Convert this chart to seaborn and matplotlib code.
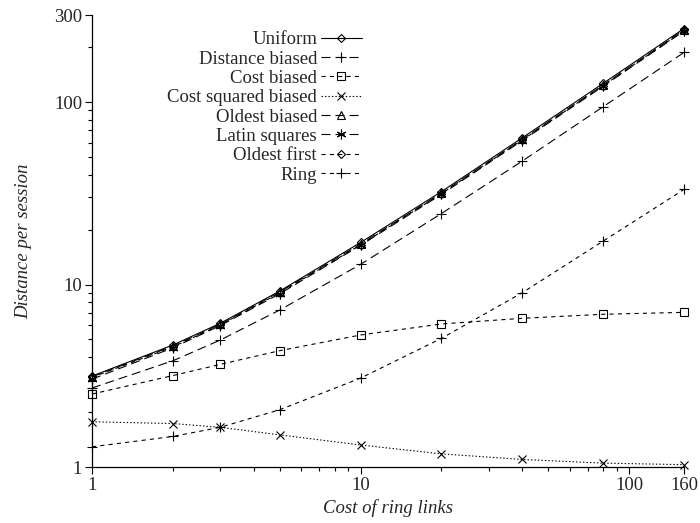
import matplotlib
matplotlib.use("Agg")
import matplotlib.pyplot as plt
import seaborn as sns
from matplotlib.ticker import FixedLocator, FixedFormatter, NullFormatter

# ---- data ----
cost = [1, 2, 3, 5, 10, 20, 40, 80, 160]
uniform = [3.15, 4.66, 6.13, 9.21, 17.0, 32.3, 63.7, 126.6, 253]
distance_biased = [2.71, 3.82, 4.96, 7.25, 12.9, 24.5, 47.5, 94.3, 187]
cost_biased = [2.51, 3.17, 3.65, 4.34, 5.29, 6.08, 6.53, 6.87, 7.04]
cost_squared_biased = [1.77, 1.73, 1.65, 1.50, 1.32, 1.18, 1.10, 1.05, 1.03]
oldest_biased = [3.12, 4.60, 6.05, 9.10, 16.7, 31.7, 62.5, 124, 249]
latin_squares = [3.03, 4.50, 5.95, 8.90, 16.4, 31.2, 61.5, 122, 245]
oldest_first = [3.10, 4.55, 6.00, 9.00, 16.5, 31.5, 62.0, 123, 247]
ring = [1.29, 1.47, 1.65, 2.06, 3.07, 5.07, 9.02, 17.3, 33.2]

series_names = ["Uniform", "Distance biased", "Cost biased", "Cost squared biased",
                "Oldest biased", "Latin squares", "Oldest first", "Ring"]
series_values = [uniform, distance_biased, cost_biased, cost_squared_biased,
                 oldest_biased, latin_squares, oldest_first, ring]

x_ticks = [1, 10, 100, 160]
x_tick_labels = ["1", "10", "100", "160"]
y_ticks = [1, 10, 100, 300]
y_tick_labels = ["1", "10", "100", "300"]
x_label = "Cost of ring links"
y_label = "Distance per session"

# ---- styles ----
long_dash = (0, (6.5, 3.6))
med_dash = (0, (3.0, 3.0))
dotted = (0, (1.0, 1.5))
styles = [
    dict(linestyle="-", marker="D", markersize=4.5),
    dict(linestyle=long_dash, marker="+", markersize=7),
    dict(linestyle=med_dash, marker="s", markersize=6),
    dict(linestyle=dotted, marker="x", markersize=6),
    dict(linestyle=long_dash, marker="^", markersize=5.5),
    dict(linestyle=long_dash, marker=(6, 2, 0), markersize=7),
    dict(linestyle=med_dash, marker="D", markersize=4.5),
    dict(linestyle=med_dash, marker="+", markersize=7),
]

sns.set_style("ticks")
plt.rcParams["font.family"] = ["Liberation Serif", "DejaVu Serif"]
plt.rcParams["font.size"] = 13.5
plt.rcParams["lines.scale_dashes"] = False

fig = plt.figure(figsize=(7.0, 5.23), dpi=100)
ax = fig.add_axes([92 / 700, 1 - 467 / 523, (684 - 92) / 700, (467 - 15) / 523])

for name, vals, st in zip(series_names, series_values, styles):
    sns.lineplot(x=cost, y=vals, ax=ax, color="black", linewidth=0.8,
                 markerfacecolor="none", markeredgecolor="black",
                 markeredgewidth=0.8, label=name, errorbar=None,
                 clip_on=False, legend=False, **st)

ax.set_xscale("log")
ax.set_yscale("log")
ax.set_xlim(1, 160)
ax.set_ylim(1, 300)

ax.xaxis.set_major_locator(FixedLocator(x_ticks))
ax.xaxis.set_major_formatter(FixedFormatter(x_tick_labels))
ax.xaxis.set_minor_locator(FixedLocator([2, 3, 4, 5, 6, 7, 8, 9, 20, 30, 40, 50, 60, 70, 80, 90]))
ax.xaxis.set_minor_formatter(NullFormatter())
ax.yaxis.set_major_locator(FixedLocator(y_ticks))
ax.yaxis.set_major_formatter(FixedFormatter(y_tick_labels))
ax.yaxis.set_minor_locator(FixedLocator([2, 3, 4, 5, 6, 7, 8, 9, 20, 30, 40, 50, 60, 70, 80, 90, 200]))
ax.yaxis.set_minor_formatter(NullFormatter())

ax.tick_params(which="major", direction="out", length=5, width=0.8, labelsize=13.5, pad=2, color="black")
ax.tick_params(which="minor", direction="out", length=3, width=0.8, color="black")

for s in ["top", "right"]:
    ax.spines[s].set_visible(False)
for s in ["left", "bottom"]:
    ax.spines[s].set_linewidth(0.9)
    ax.spines[s].set_color("black")

ax.set_xlabel(x_label, fontstyle="italic", fontsize=13.5)
ax.xaxis.set_label_coords(0.5, -(499 - 467) / 452)
ax.set_ylabel(y_label, fontstyle="italic", fontsize=13.5)
ax.yaxis.set_label_coords((32 - 92) / 592, 0.5)

leg = ax.legend(loc="upper right", bbox_to_anchor=(362 / 700, 1 - 31 / 523),
                bbox_transform=fig.transFigure, frameon=False, markerfirst=False,
                handlelength=2.2, handletextpad=0.2, labelspacing=0.12,
                borderpad=0, borderaxespad=0, numpoints=1, fontsize=13.5)

fig.savefig("out.png", dpi=100)
